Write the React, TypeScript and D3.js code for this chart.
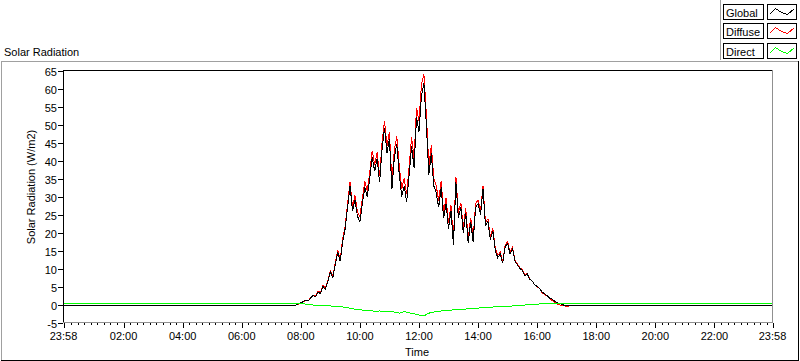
import * as d3 from 'd3';

// time in minutes after midnight; the window runs 23:58 -> 23:58
const timeStart = -2;
const timeEnd = 1438;
const majorTicks = [-2, 120, 240, 360, 480, 600, 720, 840, 960, 1080, 1200, 1320, 1438];
const majorLabels = ['23:58', '02:00', '04:00', '06:00', '08:00', '10:00', '12:00', '14:00', '16:00', '18:00', '20:00', '22:00', '23:58'];
const yTicks = [-5, 0, 5, 10, 15, 20, 25, 30, 35, 40, 45, 50, 55, 60, 65];

// daytime samples every 5 min from 07:40 to 17:10
const dayStart = 460;
const dayStep = 5;
const globalDay = [
  -0.3, -0.3, -0.2, 0.2,
  0.5, 0.8, 1.2, 1.0, 1.8, 2.5, 2.2, 3.5, 3.0, 5.0, 4.2, 6.5,
  9.0, 7.5, 11.0, 14.5, 12.0, 17.5, 21.0, 27.0, 33.0, 26.0, 29.0, 24.5,
  23.0, 28.0, 32.5, 30.0, 35.0, 41.0, 37.0, 40.5, 34.0, 43.0, 49.0, 42.0,
  46.0, 32.0, 41.0, 44.5, 36.0, 30.0, 33.0, 28.5, 36.0, 44.0, 38.0, 52.0,
  48.0, 58.0, 61.5, 50.0, 36.0, 42.0, 33.0, 31.0, 27.0, 32.5, 24.0, 28.0,
  21.0, 26.0, 16.5, 34.0, 24.0, 27.0, 20.0, 25.5, 17.0, 23.0, 17.5, 27.0,
  28.0, 25.0, 32.0, 22.0, 23.0, 18.0, 20.5, 15.0, 13.0, 14.0, 11.5, 16.0,
  17.0, 14.0, 15.5, 12.0, 11.0, 10.0, 9.5, 8.0, 8.5, 7.0, 6.5, 5.5,
  5.0, 4.5, 3.5, 3.0, 2.5, 1.8, 1.5, 1.0, 0.6, 0.3, 0.0, -0.2,
  -0.3, -0.3, -0.3,
];
const diffuseDay = [
  -0.3, -0.3, -0.2, 0.1,
  0.3, 0.7, 1.1, 1.0, 1.9, 2.6, 2.4, 3.7, 3.3, 5.3, 4.5, 6.8,
  9.4, 8.0, 11.5, 15.0, 12.6, 18.2, 21.8, 27.9, 34.0, 27.1, 30.3, 25.8,
  24.4, 29.5, 34.2, 31.6, 36.6, 42.7, 38.9, 42.3, 35.8, 44.9, 51.0, 44.0,
  47.9, 34.0, 43.1, 46.7, 38.4, 32.2, 35.0, 30.6, 38.3, 46.4, 40.6, 54.7,
  50.9, 61.0, 64.0, 52.8, 38.4, 44.2, 35.1, 33.0, 28.9, 34.3, 25.7, 29.6,
  22.6, 27.5, 18.0, 35.4, 25.4, 28.3, 21.3, 26.7, 18.2, 24.1, 18.6, 28.0,
  29.0, 26.0, 32.9, 22.8, 23.8, 18.7, 21.2, 15.6, 13.6, 14.5, 12.0, 16.5,
  17.5, 14.4, 15.9, 12.3, 11.3, 10.2, 9.7, 8.1, 8.6, 7.0, 6.5, 5.5,
  4.9, 4.4, 3.3, 2.8, 2.3, 1.6, 1.2, 0.7, 0.2, -0.1, -0.3, -0.4,
  -0.5, -0.4, -0.3,
];

// direct every 10 min from 05:00 to 18:00
const directStart = 300;
const directStep = 10;
const directDay = [
  0.2, 0.4, 0.3, 0.4, 0.2, 0.4,
  0.3, 0.4, 0.3, 0.3, 0.4, 0.3,
  0.3, 0.3, 0.3, 0.3, 0.3, 0.4,
  0.3, 0.1, -0.1, -0.2, -0.3, -0.3,
  -0.4, -0.5, -0.6, -0.8, -1.0, -1.3,
  -1.4, -1.7, -1.6, -1.9, -1.8, -2.0,
  -1.9, -2.1, -2.4, -2.0, -2.3, -2.6,
  -2.9, -3.2, -2.4, -2.1, -1.9, -1.7,
  -1.6, -1.5, -1.4, -1.3, -1.2, -1.1,
  -1.0, -0.9, -0.8, -0.7, -0.6, -0.5,
  -0.5, -0.4, -0.3, -0.2, -0.1, 0.0,
  0.1, 0.2, 0.2, 0.3, 0.4, 0.4,
  0.4, 0.3, 0.4, 0.3, 0.3, 0.3,
  0.3,
];

const nightGlobal = -0.3;
const nightDiffuse = -0.3;
const nightDirect = 0.3;

const font = '"Liberation Sans", Arial, sans-serif';

type Pt = [number, number];

function series(start: number, step: number, vals: number[], night: number): Pt[] {
  const pts: Pt[] = [[timeStart, night]];
  vals.forEach((v, i) => pts.push([start + i * step, v]));
  pts.push([timeEnd, night]);
  return pts;
}

const legendItems = [
  { name: 'Global', color: '#000000' },
  { name: 'Diffuse', color: '#ff0000' },
  { name: 'Direct', color: '#00ff00' },
];

export default function App() {
  const x = d3.scaleLinear().domain([timeStart, timeEnd]).range([63.5, 772.5]);
  const y = d3.scaleLinear().domain([-5, 65]).range([322.5, 70.5]);

  const line = d3.line<Pt>()
    .x(d => x(d[0]))
    .y(d => y(d[1]));

  const globalPts = series(dayStart, dayStep, globalDay, nightGlobal);
  const diffusePts = series(dayStart, dayStep, diffuseDay, nightDiffuse);
  const directPts = series(directStart, directStep, directDay, nightDirect);

  // minor ticks: 9 divisions per 2 hours
  const minorTicks = d3.range(0, 1440, 120 / 9).filter(t => t > timeStart && t < timeEnd && Math.abs(t % 120) > 0.5 && Math.abs(t % 120 - 120) > 0.5);

  const px = (v: number) => Math.round(v) + 0.5;
  const swatch: Pt[] = [[2, 10], [8, 4], [14, 8], [20, 10], [27, 4]];

  return (
    <div style={{ position: 'absolute', left: 0, top: 0 }}>
      <svg width={800} height={361} style={{ display: 'block', background: '#fff' }} fontFamily={font} fontSize={11}>
        {/* legend */}
        <line x1={720.5} y1={0} x2={720.5} y2={60} stroke="#a0a0a0" />
        {legendItems.map((it, i) => {
          const top = 3.5 + i * 19.5;
          const ty = Math.round(top) + 0.5;
          return (
            <g key={it.name}>
              <rect x={723.5} y={ty} width={40} height={15} fill="#fff" stroke="#000" />
              <text x={726} y={ty + 12}>{it.name}</text>
              <rect x={767.5} y={ty} width={29} height={15} fill="#fff" stroke="#000" />
              <path
                d={d3.line<Pt>().x(d => 767.5 + d[0]).y(d => ty + d[1])(swatch) || ''}
                fill="none" stroke={it.color} shapeRendering="crispEdges"
              />
            </g>
          );
        })}

        {/* panel border */}
        <line x1={1} y1={61.5} x2={798} y2={61.5} stroke="#a0a0a0" />
        <line x1={1.5} y1={61} x2={1.5} y2={361} stroke="#a0a0a0" />
        <line x1={798.5} y1={61} x2={798.5} y2={361} stroke="#000" />
        <line x1={1} y1={360.5} x2={799} y2={360.5} stroke="#000" />

        <text x={4} y={56}>Solar Radiation</text>

        {/* data */}
        <g fill="none" strokeWidth={1} shapeRendering="crispEdges">
          <path d={line(diffusePts) || ''} stroke="#ff0000" />
          <path d={line(globalPts) || ''} stroke="#000000" />
          <path d={line(directPts) || ''} stroke="#00ff00" />
        </g>

        {/* plot frame */}
        <line x1={63.5} y1={70.5} x2={772.5} y2={70.5} stroke="#000" />
        <line x1={63.5} y1={70} x2={63.5} y2={323} stroke="#000" />
        <line x1={772.5} y1={70} x2={772.5} y2={323} stroke="#909090" />
        <line x1={63} y1={322.5} x2={773} y2={322.5} stroke="#909090" />

        {/* y axis */}
        {yTicks.map(v => (
          <g key={v}>
            <line x1={58} y1={px(y(v))} x2={63} y2={px(y(v))} stroke="#000" />
            <text x={57} y={px(y(v)) + 4} textAnchor="end">{v}</text>
          </g>
        ))}
        <text transform="translate(35,187) rotate(-90)" textAnchor="middle">Solar Radiation (W/m2)</text>

        {/* x axis */}
        {minorTicks.map(t => (
          <line key={t} x1={px(x(t))} y1={323} x2={px(x(t))} y2={325} stroke="#000" />
        ))}
        {majorTicks.map((t, i) => (
          <g key={t}>
            <line x1={px(x(t))} y1={323} x2={px(x(t))} y2={328} stroke="#000" />
            <text x={x(t)} y={340} textAnchor="middle">{majorLabels[i]}</text>
          </g>
        ))}
        <text x={417} y={356} textAnchor="middle">Time</text>
      </svg>
    </div>
  );
}
